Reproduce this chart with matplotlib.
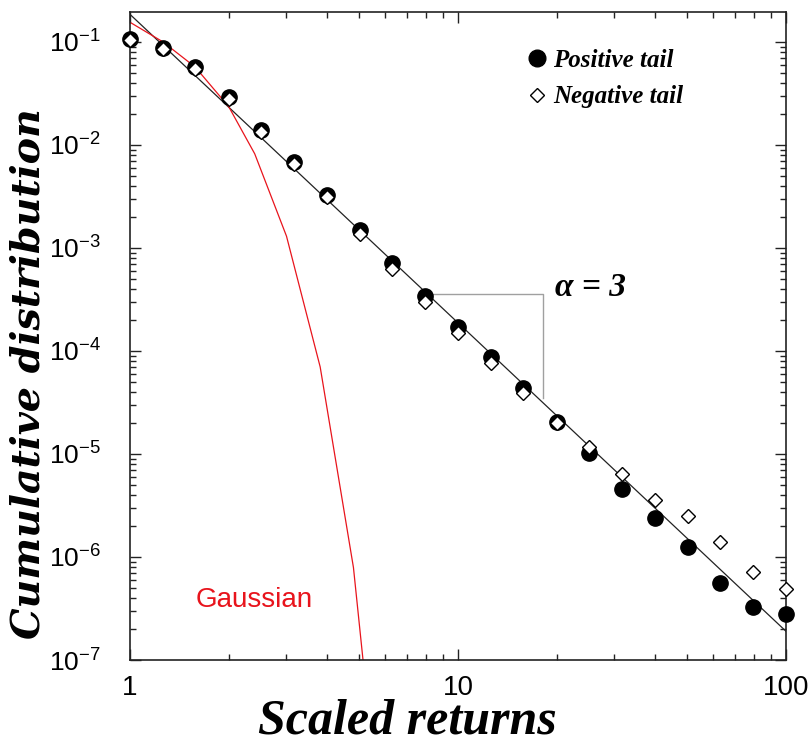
"""
Cumulative distribution of scaled returns: positive / negative tails vs Gaussian.
"""
import matplotlib
matplotlib.use('Agg')
import matplotlib.pyplot as plt
from matplotlib.lines import Line2D
from matplotlib.ticker import FixedLocator, FixedFormatter, LogLocator, NullFormatter

# scaled returns (bin centres)
returns = [1.0, 1.26, 1.58, 2.0, 2.51, 3.16, 3.98, 5.01, 6.31, 7.94, 10.0,
           12.6, 15.8, 20.0, 25.1, 31.6, 39.8, 50.1, 63.1, 79.4, 100.0]
positive_tail = [0.106, 0.087, 0.057, 0.029, 0.0138, 0.0068, 0.0033, 1.5e-3,
                 7.1e-4, 3.4e-4, 1.72e-4, 8.7e-5, 4.4e-5, 2.06e-5, 1.02e-5,
                 4.6e-6, 2.4e-6, 1.25e-6, 5.6e-7, 3.3e-7, 2.8e-7]
negative_tail = [0.104, 0.085, 0.055, 0.028, 0.0133, 0.0065, 0.0031, 1.38e-3,
                 6.3e-4, 3.0e-4, 1.51e-4, 7.6e-5, 3.9e-5, 2.0e-5, 1.17e-5,
                 6.4e-6, 3.6e-6, 2.5e-6, 1.4e-6, 7.1e-7, 4.9e-7]

# gaussian reference curve
gauss_x = [1.0, 1.26, 1.58, 2.0, 2.4, 3.0, 3.8, 4.8, 5.5]
gauss_y = [0.155, 0.10, 0.057, 0.0235, 0.0082, 1.3e-3, 7.0e-5, 7.9e-7, 1.2e-8]

# power law fit, alpha = 3
fit_x = [1.0, 100.0]
fit_y = [0.185, 1.9e-7]

# slope triangle
tri_x = [8.4, 18.2, 18.2]
tri_y = [3.6e-4, 3.6e-4, 3.5e-5]

SERIF = 'Liberation Serif'
SANS = 'Liberation Sans'

fig = plt.figure(figsize=(8.09, 7.4), dpi=100)
ax = fig.add_axes([130 / 809, 1 - 660 / 740, 656 / 809, 648 / 740])

ax.plot(fit_x, fit_y, color='#222222', lw=0.9, zorder=2)
ax.plot(gauss_x, gauss_y, color='#e8141c', lw=0.9, zorder=2)
ax.plot(tri_x, tri_y, color='#a0a0a0', lw=1.0, zorder=1)

ax.plot(returns, positive_tail, 'o', ms=11, color='black', zorder=3, clip_on=False)
ax.plot(returns, negative_tail, 'D', ms=7, mfc='white', mec='black', mew=1.0,
        zorder=4, clip_on=False)

ax.set_xscale('log')
ax.set_yscale('log')
ax.set_xlim(1, 100)
ax.set_ylim(1e-7, 0.195)

ax.xaxis.set_major_locator(FixedLocator([1, 10, 100]))
ax.xaxis.set_major_formatter(FixedFormatter(['1', '10', '100']))
ax.xaxis.set_minor_locator(LogLocator(base=10, subs=range(2, 10)))
ax.xaxis.set_minor_formatter(NullFormatter())
yticks = [1e-7, 1e-6, 1e-5, 1e-4, 1e-3, 1e-2, 1e-1]
ax.yaxis.set_major_locator(FixedLocator(yticks))
ax.yaxis.set_major_formatter(FixedFormatter(
    [r'$\mathdefault{10^{-%d}}$' % k for k in range(7, 0, -1)]))
ax.yaxis.set_minor_locator(LogLocator(base=10, subs=range(2, 10)))
ax.yaxis.set_minor_formatter(NullFormatter())

ax.tick_params(which='both', direction='in', top=True, right=True,
               color='#222222', width=1.0)
ax.tick_params(which='major', length=8)
ax.tick_params(which='minor', length=4.5)
ax.tick_params(axis='x', which='major', pad=11, labelsize=20)
ax.tick_params(axis='y', which='major', pad=21, labelsize=19)
for lab in ax.get_xticklabels() + ax.get_yticklabels():
    lab.set_fontfamily(SANS)
for sp in ax.spines.values():
    sp.set_color('#222222')
    sp.set_linewidth(1.2)

ax.text(1.58, 3.8e-7, 'Gaussian', color='#e8141c', fontsize=20,
        family=SANS, va='center', ha='left')
ax.text(19.8, 4.1e-4, 'α = 3', fontsize=24, family=SERIF, style='italic',
        weight='bold', va='center', ha='left')

handles = [Line2D([], [], ls='none', marker='o', ms=12, color='black'),
           Line2D([], [], ls='none', marker='D', ms=7, mfc='white',
                  mec='black', mew=1.0)]
ax.legend(handles, ['Positive tail', 'Negative tail'], loc='upper left',
          bbox_to_anchor=(0.601, 0.943), frameon=False, borderpad=0,
          borderaxespad=0, handlelength=1.0, handletextpad=0.15,
          labelspacing=0.54,
          prop={'family': SERIF, 'style': 'italic', 'weight': 'bold', 'size': 18})

fig.text(407 / 809, 1 - 733 / 740, 'Scaled returns', fontsize=36, family=SERIF,
         style='italic', weight='bold', ha='center', va='baseline')
fig.text(29 / 809, 1 - 374 / 740, 'Cumulative distribution', fontsize=28.5,
         family='DejaVu Serif', style='italic', weight='bold', ha='center',
         va='center', rotation=90)

fig.savefig('out.png', dpi=100)
